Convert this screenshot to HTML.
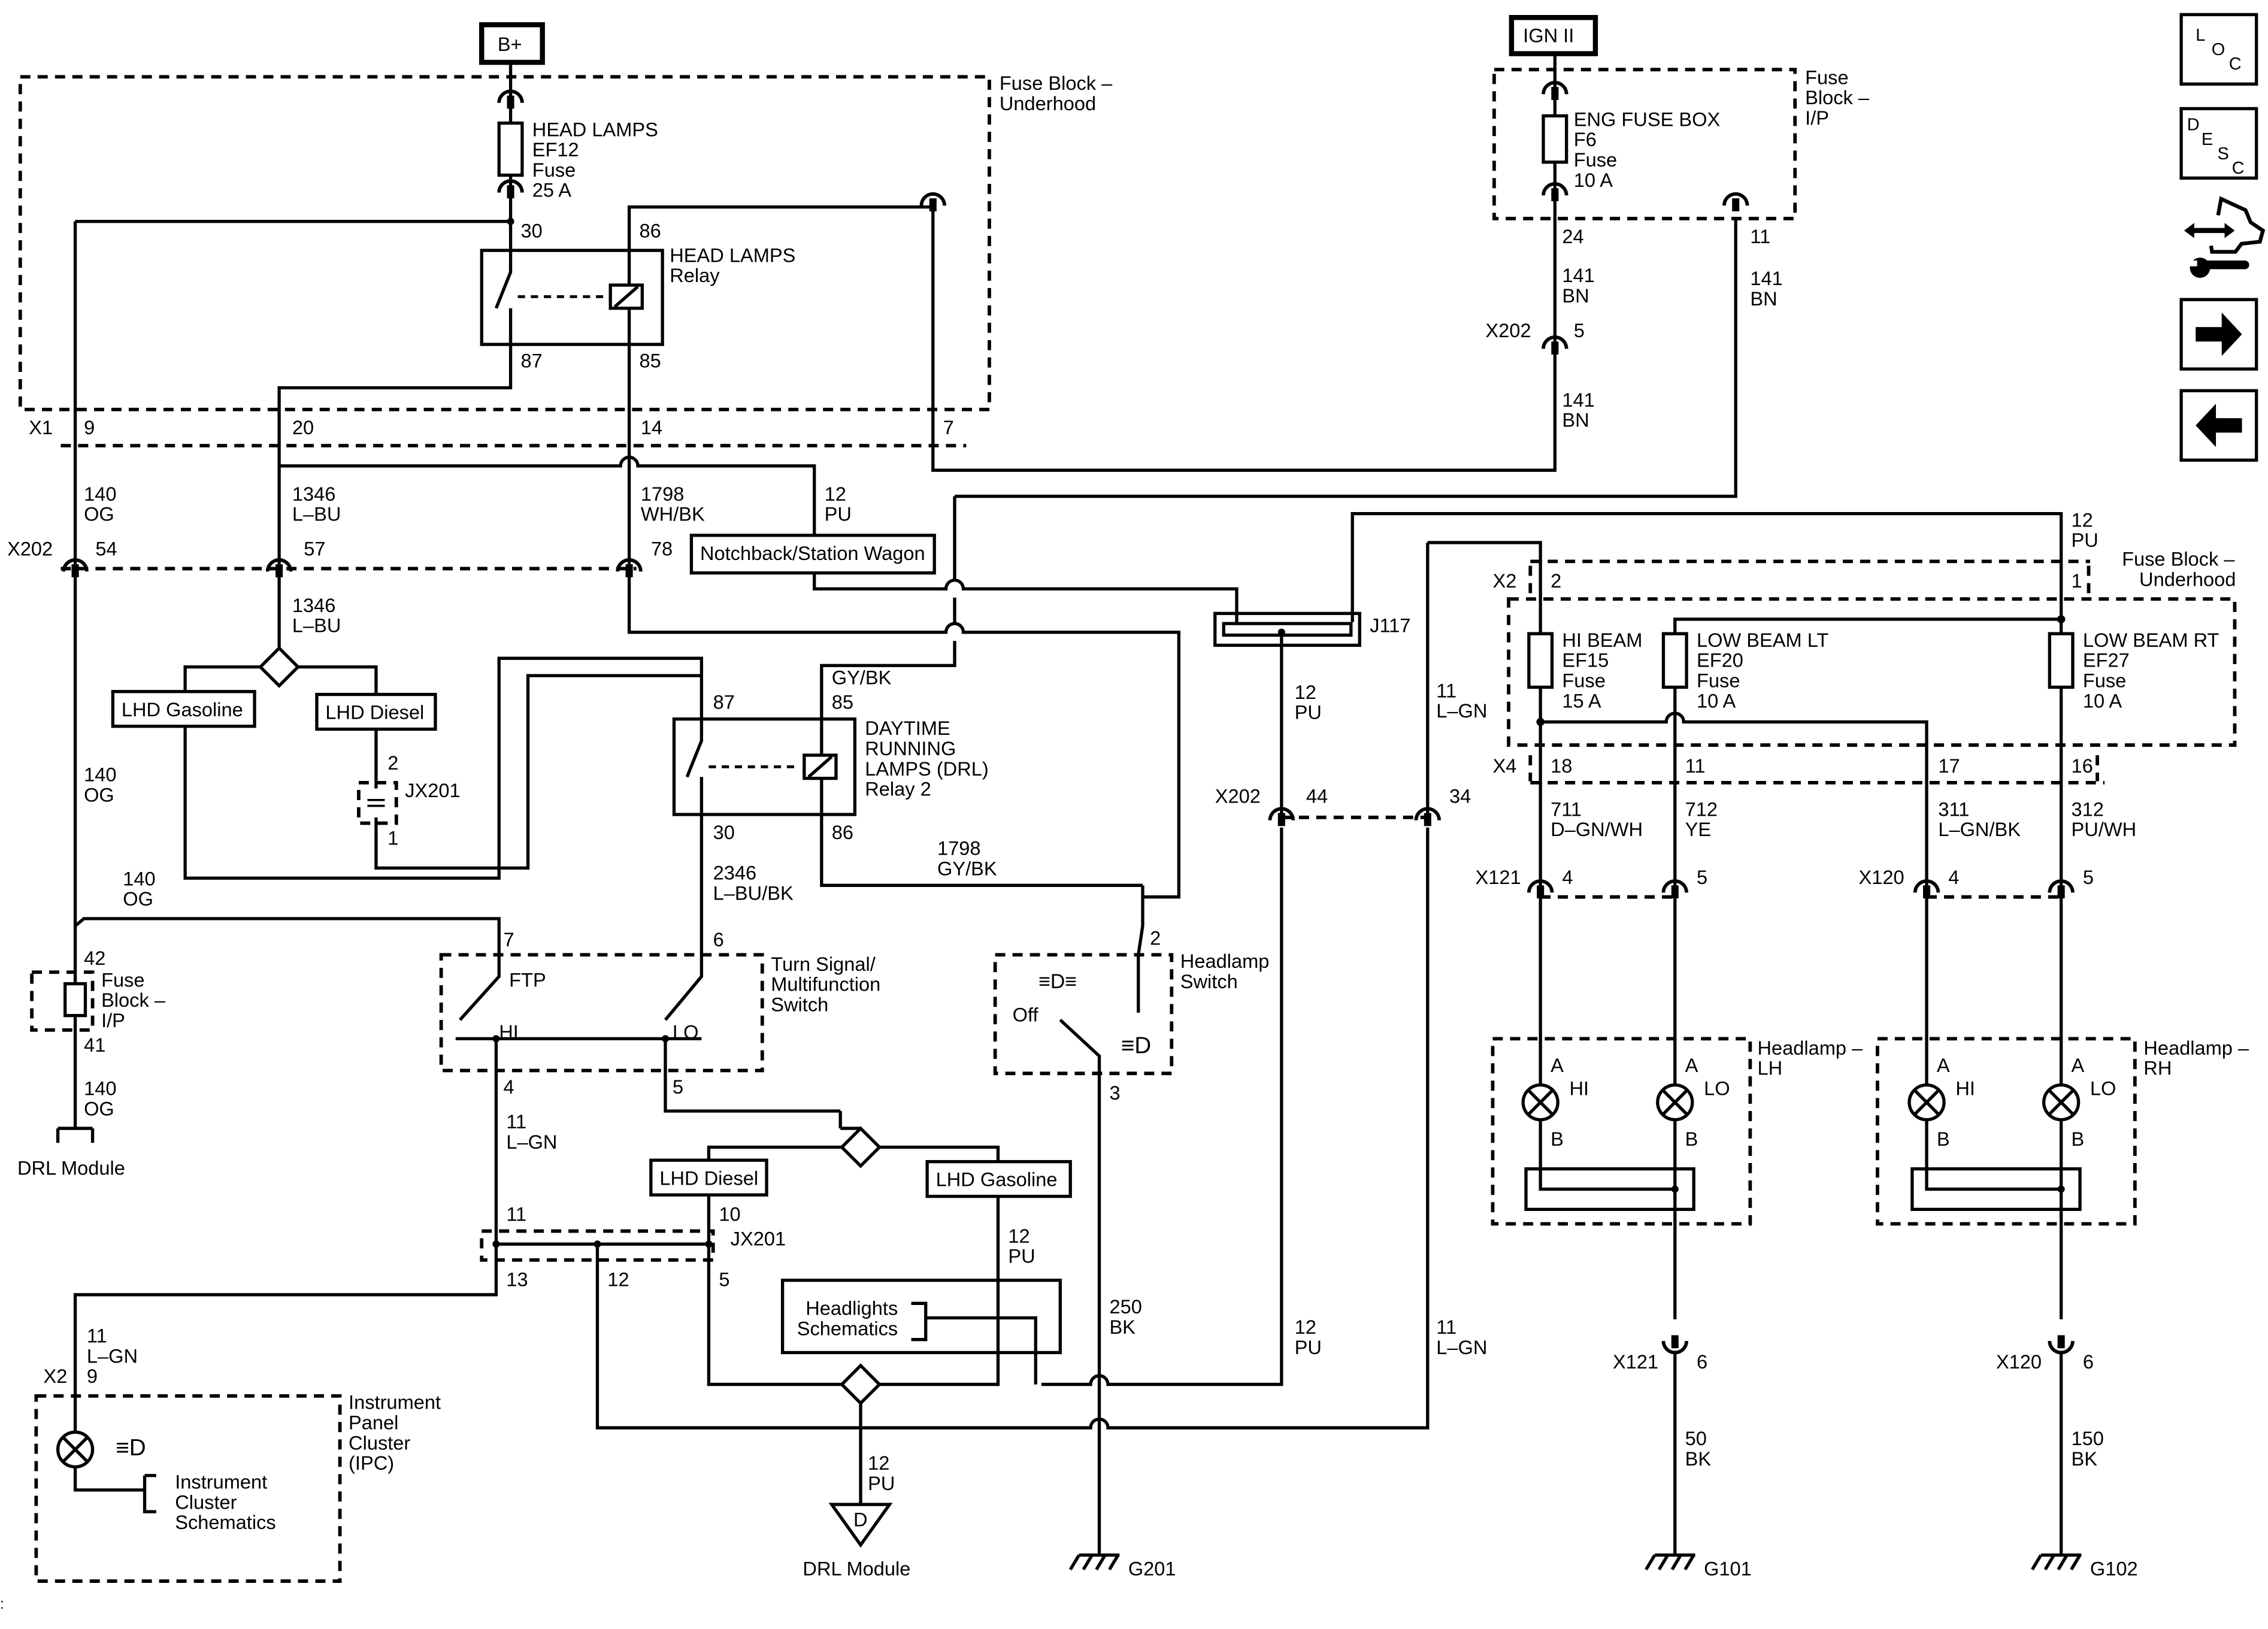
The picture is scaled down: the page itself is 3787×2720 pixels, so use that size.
<!DOCTYPE html>
<html><head><meta charset="utf-8"><style>
html,body{margin:0;padding:0;background:#fff}
svg{display:block}
text{font-family:"Liberation Sans",Arial,sans-serif;font-size:13.5px;fill:#000}
.w{fill:none;stroke:#000;stroke-width:2.2}
.d{fill:none;stroke:#000;stroke-width:2.4;stroke-dasharray:7 5}
.b{fill:none;stroke:#000;stroke-width:2.2}
</style></head><body>
<svg width="3787" height="2720" viewBox="0 0 1568 1126" xmlns="http://www.w3.org/2000/svg">
<rect width="1568" height="1126" fill="#fff"/>
<defs>
<g id="cn"><path d="M-8,5 A8,8 0 0 1 8,5" fill="none" stroke="#000" stroke-width="2.4"/><rect x="-2.5" y="0" width="5" height="9" fill="#000"/></g>
<g id="gnd"><path d="M-14,0 H14 M-14,0 l-6,10 M-5,0 l-6,10 M4,0 l-6,10 M13,0 l-6,10" fill="none" stroke="#000" stroke-width="2.2"/></g>
</defs>

<!-- B+ -->
<rect x="333" y="17" width="42" height="26" fill="none" stroke="#000" stroke-width="3.5"/>
<text x="344" y="35">B+</text>
<rect x="14" y="53" width="670" height="230" class="d"/>
<text x="691" y="62">Fuse Block –</text><text x="691" y="76">Underhood</text>
<path class="w" d="M353,43 V85 M353,121 V173"/>
<rect x="345" y="85" width="16" height="36" class="b"/>
<use href="#cn" x="353" y="66"/><use href="#cn" x="353" y="128"/>
<text x="368" y="94">HEAD LAMPS</text><text x="368" y="108">EF12</text><text x="368" y="122">Fuse</text><text x="368" y="136">25 A</text>
<path class="w" d="M52,153 H353"/>
<circle cx="353" cy="153" r="2.5"/>
<!-- head lamps relay -->
<rect x="333" y="173" width="125" height="65" class="b"/>
<text x="360" y="164">30</text><text x="442" y="164">86</text><text x="360" y="254">87</text><text x="442" y="254">85</text>
<text x="463" y="181">HEAD LAMPS</text><text x="463" y="195">Relay</text>
<path class="w" d="M353,173 V188 L343,213 M353,213 V238"/>
<path d="M358,205 H420" fill="none" stroke="#000" stroke-width="2" stroke-dasharray="5 4"/>
<rect x="422" y="197" width="22" height="16" class="b"/><path class="w" d="M425,212 L441,198"/>
<path class="w" d="M435,173 V197 M435,213 V238"/>
<path class="w" d="M435,173 V143 H645 V325 H1075 V245 M1075,236 V150"/>
<use href="#cn" x="645" y="137"/>
<path class="w" d="M353,238 V268 H193 V390"/>
<path class="w" d="M52,153 V390"/>
<path class="w" d="M435,238 V390"/>
<!-- X1 -->
<path class="d" d="M42,308 H668"/>
<text x="20" y="300">X1</text><text x="58" y="300">9</text><text x="202" y="300">20</text><text x="443" y="300">14</text><text x="652" y="300">7</text>
<path class="w" d="M193,322 H429 A6,6 0 0 1 441,322 H563 V370"/>
<text x="58" y="346">140</text><text x="58" y="360">OG</text>
<text x="202" y="346">1346</text><text x="202" y="360">L–BU</text>
<text x="443" y="346">1798</text><text x="443" y="360">WH/BK</text>
<text x="570" y="346">12</text><text x="570" y="360">PU</text>
<rect x="478" y="370" width="168" height="26" class="b"/>
<text x="484" y="387">Notchback/Station Wagon</text>
<!-- X202 row -->
<path class="d" d="M42,393 H440"/>
<text x="5" y="384">X202</text><text x="66" y="384">54</text><text x="210" y="384">57</text><text x="450" y="384">78</text>
<use href="#cn" x="52" y="390"/><use href="#cn" x="193" y="390"/><use href="#cn" x="435" y="390"/>
<path class="w" d="M52,399 V662"/>
<path class="w" d="M193,399 V448"/>
<text x="202" y="423">1346</text><text x="202" y="437">L–BU</text>
<path class="w" d="M193,448 L206,461 L193,474 L180,461 Z"/>
<path class="w" d="M180,461 H128 V478 M206,461 H260 V480"/>
<rect x="78" y="478" width="98" height="24" class="b"/><text x="84" y="495">LHD Gasoline</text>
<rect x="219" y="480" width="82" height="24" class="b"/><text x="225" y="497">LHD Diesel</text>
<path class="w" d="M128,502 V607 H345 V455 H485 V497"/>
<path class="w" d="M260,504 V545 M260,565 V600 H365 V467 H485"/>
<rect x="248" y="541" width="26" height="28" class="d"/>
<text x="268" y="532">2</text><text x="280" y="551">JX201</text><text x="268" y="584">1</text>
<path d="M254,553 h12 M254,557 h12" stroke="#000" stroke-width="1.5"/>
<text x="58" y="540">140</text><text x="58" y="554">OG</text>
<!-- 435 line continuing -->
<path class="w" d="M435,399 V437 H654 A6,6 0 0 1 666,437 H815 V620 H790"/>
<path class="w" d="M563,396 V407 H654 A6,6 0 0 1 666,407 H855 V430"/>
<path class="w" d="M660,343 H1200 V150"/>
<use href="#cn" x="1200" y="137"/>
<path class="w" d="M660,343 V401 M660,413 V431 M660,443 V460 H568 V497"/>
<text x="575" y="473">GY/BK</text>
<!-- DRL relay -->
<rect x="466" y="497" width="125" height="66" class="b"/>
<text x="493" y="490">87</text><text x="575" y="490">85</text><text x="493" y="580">30</text><text x="575" y="580">86</text>
<text x="598" y="508">DAYTIME</text><text x="598" y="522">RUNNING</text><text x="598" y="536">LAMPS (DRL)</text><text x="598" y="550">Relay 2</text>
<path class="w" d="M485,497 V512 L475,537 M485,537 V563"/>
<path d="M490,530 H553" fill="none" stroke="#000" stroke-width="2" stroke-dasharray="5 4"/>
<rect x="556" y="522" width="22" height="16" class="b"/><path class="w" d="M559,537 L575,523"/>
<path class="w" d="M568,497 V522 M568,538 V563"/>
<path class="w" d="M568,563 V612 H790"/>
<text x="648" y="591">1798</text><text x="648" y="605">GY/BK</text>
<path class="w" d="M485,563 V675 L460,705"/>
<text x="493" y="608">2346</text><text x="493" y="622">L–BU/BK</text>
<!-- J117 -->
<path class="w" d="M935,430 V355 H1425 V438"/>
<text x="1432" y="364">12</text><text x="1432" y="378">PU</text>
<rect x="840" y="424" width="100" height="22" class="b"/>
<rect x="846" y="431" width="88" height="8" class="b"/>
<text x="947" y="437">J117</text>
<circle cx="886" cy="437" r="2.5"/>
<path class="w" d="M886,437 V562 M886,572 V957 H766 A6,6 0 0 0 754,957 H720"/>
<text x="895" y="483">12</text><text x="895" y="497">PU</text>
<text x="895" y="922">12</text><text x="895" y="936">PU</text>
<use href="#cn" x="886" y="562"/><use href="#cn" x="987" y="562"/>
<path class="d" d="M886,565 H987"/>
<text x="840" y="555">X202</text><text x="903" y="555">44</text><text x="1002" y="555">34</text>
<path class="w" d="M987,375 H1065 V438 M987,375 V562 M987,572 V987 H766 A6,6 0 0 0 754,987 H413 V860"/>
<text x="993" y="482">11</text><text x="993" y="496">L–GN</text>
<text x="993" y="922">11</text><text x="993" y="936">L–GN</text>
<!-- left: fuse block I/P -->
<path class="w" d="M52,640 L58,635 H345 V660"/>
<text x="85" y="612">140</text><text x="85" y="626">OG</text>
<rect x="22" y="672" width="42" height="40" class="d"/>
<path class="w" d="M52,662 V680 M52,702 V780"/>
<rect x="45" y="680" width="14" height="22" class="b"/>
<text x="58" y="667">42</text><text x="70" y="682">Fuse</text><text x="70" y="696">Block –</text><text x="70" y="710">I/P</text><text x="58" y="727">41</text>
<text x="58" y="757">140</text><text x="58" y="771">OG</text>
<path class="w" d="M40,780 H64 M40,780 V790 M64,780 V790"/>
<text x="12" y="812">DRL Module</text>
<!-- turn signal switch -->
<rect x="305" y="660" width="222" height="80" class="d"/>
<text x="348" y="654">7</text><text x="493" y="654">6</text>
<text x="533" y="671">Turn Signal/</text><text x="533" y="685">Multifunction</text><text x="533" y="699">Switch</text>
<text x="352" y="682">FTP</text>
<path class="w" d="M345,660 V675 L318,705"/>
<text x="345" y="718">HI</text><text x="465" y="718">LO</text>
<path class="w" d="M315,718 H485"/>
<path class="w" d="M343,718 V860 M460,718 V768 H581"/>
<circle cx="343" cy="718" r="2.5"/><circle cx="460" cy="718" r="2.5"/>
<text x="348" y="756">4</text><text x="465" y="756">5</text>
<text x="350" y="780">11</text><text x="350" y="794">L–GN</text>
<path class="w" d="M581,768 V780 M595,780 L608,793 L595,806 L582,793 Z"/>
<path class="w" d="M581,780 H595"/>
<path class="w" d="M582,793 H490 V802 M608,793 H690 V803"/>
<rect x="450" y="802" width="80" height="24" class="b"/><text x="456" y="819">LHD Diesel</text>
<rect x="641" y="803" width="99" height="24" class="b"/><text x="647" y="820">LHD Gasoline</text>
<!-- JX201 bottom -->
<rect x="333" y="851" width="160" height="20" class="d"/>
<path class="w" d="M343,860 H490 M343,860 V895 H52 V965 M490,826 V957 H582"/>
<circle cx="343" cy="860" r="2.5"/><circle cx="413" cy="860" r="2.5"/><circle cx="490" cy="860" r="2.5"/>
<text x="350" y="844">11</text><text x="497" y="844">10</text><text x="505" y="861">JX201</text>
<text x="350" y="889">13</text><text x="420" y="889">12</text><text x="497" y="889">5</text>
<path class="w" d="M690,827 V957 H608"/>
<text x="697" y="859">12</text><text x="697" y="873">PU</text>
<rect x="541" y="885" width="192" height="50" class="b"/>
<text x="557" y="909">Headlights</text><text x="551" y="923">Schematics</text>
<path class="w" d="M630,901 H640 V926 H630 M640,911 H716 V957"/>
<path class="w" d="M595,944 L608,957 L595,970 L582,957 Z M595,970 V1040"/>
<text x="600" y="1016">12</text><text x="600" y="1030">PU</text>
<path class="w" d="M575,1040 H615 L595,1068 Z"/>
<text x="590" y="1055">D</text>
<text x="555" y="1089">DRL Module</text>
<!-- IPC -->
<text x="30" y="956">X2</text><text x="60" y="956">9</text>
<text x="60" y="928">11</text><text x="60" y="942">L–GN</text>
<rect x="25" y="965" width="210" height="128" class="d"/>
<circle cx="52" cy="1002" r="12" class="b"/><path class="w" d="M44,994 L60,1010 M60,994 L44,1010"/>
<path class="w" d="M52,965 V990 M52,1014 V1030 H100 M100,1020 H108 M100,1020 V1045 H108"/>
<text x="80" y="1006" style="font-size:16px">≡D</text>
<text x="121" y="1029">Instrument</text><text x="121" y="1043">Cluster</text><text x="121" y="1057">Schematics</text>
<text x="241" y="974">Instrument</text><text x="241" y="988">Panel</text><text x="241" y="1002">Cluster</text><text x="241" y="1016">(IPC)</text>
<!-- headlamp switch -->
<rect x="688" y="660" width="122" height="82" class="d"/>
<text x="795" y="653">2</text>
<path class="w" d="M790,612 V640 L787,660 V700"/>
<text x="816" y="669">Headlamp</text><text x="816" y="683">Switch</text>
<text x="718" y="683" style="font-size:14px">≡D≡</text>
<text x="700" y="706">Off</text>
<path class="w" d="M733,705 L760,730 V1075"/>
<text x="775" y="728" style="font-size:16px">≡D</text>
<text x="767" y="760">3</text>
<text x="767" y="908">250</text><text x="767" y="922">BK</text>
<use href="#gnd" x="760" y="1075"/><text x="780" y="1089">G201</text>
<!-- IGN II -->
<rect x="1045" y="12" width="58" height="25" fill="none" stroke="#000" stroke-width="3.5"/>
<text x="1053" y="29">IGN II</text>
<rect x="1033" y="48" width="208" height="103" class="d"/>
<text x="1248" y="58">Fuse</text><text x="1248" y="72">Block –</text><text x="1248" y="86">I/P</text>
<path class="w" d="M1075,37 V80 M1075,112 V150"/>
<rect x="1067" y="80" width="16" height="32" class="b"/>
<use href="#cn" x="1075" y="60"/><use href="#cn" x="1075" y="130"/>
<text x="1088" y="87">ENG FUSE BOX</text><text x="1088" y="101">F6</text><text x="1088" y="115">Fuse</text><text x="1088" y="129">10 A</text>
<text x="1080" y="168">24</text><text x="1210" y="168">11</text>
<text x="1080" y="195">141</text><text x="1080" y="209">BN</text>
<text x="1210" y="197">141</text><text x="1210" y="211">BN</text>
<use href="#cn" x="1075" y="236"/>
<text x="1027" y="233">X202</text><text x="1088" y="233">5</text>
<text x="1080" y="281">141</text><text x="1080" y="295">BN</text>
<!-- right fuse block -->
<path class="d" d="M1058,388 H1445 M1058,391 V410 M1444,391 V410"/>
<text x="1032" y="406">X2</text><text x="1072" y="406">2</text><text x="1432" y="406">1</text>
<text x="1467" y="391">Fuse Block –</text><text x="1479" y="405">Underhood</text>
<rect x="1043" y="414" width="502" height="101" class="d"/>
<rect x="1057" y="438" width="16" height="37" class="b"/>
<rect x="1150" y="438" width="16" height="37" class="b"/>
<rect x="1417" y="438" width="16" height="37" class="b"/>
<text x="1080" y="447">HI BEAM</text><text x="1080" y="461">EF15</text><text x="1080" y="475">Fuse</text><text x="1080" y="489">15 A</text>
<text x="1173" y="447">LOW BEAM LT</text><text x="1173" y="461">EF20</text><text x="1173" y="475">Fuse</text><text x="1173" y="489">10 A</text>
<text x="1440" y="447">LOW BEAM RT</text><text x="1440" y="461">EF27</text><text x="1440" y="475">Fuse</text><text x="1440" y="489">10 A</text>
<path class="w" d="M1158,438 V428 H1425"/>
<circle cx="1425" cy="428" r="2.8"/>
<path class="w" d="M1065,475 V612 M1158,475 V612 M1425,475 V612 M1065,499 H1152 A6,6 0 0 1 1164,499 H1332 V612"/>
<circle cx="1065" cy="499" r="2.8"/>
<path class="d" d="M1058,541 H1455 M1058,522 V540 M1450,522 V540"/>
<text x="1032" y="534">X4</text><text x="1072" y="534">18</text><text x="1165" y="534">11</text><text x="1340" y="534">17</text><text x="1432" y="534">16</text>
<text x="1072" y="564">711</text><text x="1072" y="578">D–GN/WH</text>
<text x="1165" y="564">712</text><text x="1165" y="578">YE</text>
<text x="1340" y="564">311</text><text x="1340" y="578">L–GN/BK</text>
<text x="1432" y="564">312</text><text x="1432" y="578">PU/WH</text>
<use href="#cn" x="1065" y="612"/><use href="#cn" x="1158" y="612"/><use href="#cn" x="1332" y="612"/><use href="#cn" x="1425" y="612"/>
<path class="d" d="M1065,620 H1158 M1332,620 H1425"/>
<text x="1020" y="611">X121</text><text x="1080" y="611">4</text><text x="1173" y="611">5</text>
<text x="1285" y="611">X120</text><text x="1347" y="611">4</text><text x="1440" y="611">5</text>
<path class="w" d="M1065,621 V750 M1065,774 V822 H1158 M1158,621 V750 M1158,774 V912"/>
<path class="w" d="M1332,621 V750 M1332,774 V822 H1425 M1425,621 V750 M1425,774 V912"/>
<rect x="1032" y="718" width="178" height="128" class="d"/>
<rect x="1298" y="718" width="178" height="128" class="d"/>
<rect x="1055" y="808" width="116" height="28" class="b"/>
<rect x="1322" y="808" width="116" height="28" class="b"/>
<circle cx="1158" cy="822" r="2.5"/><circle cx="1425" cy="822" r="2.5"/>
<g class="b">
<circle cx="1065" cy="762" r="12"/><circle cx="1158" cy="762" r="12"/><circle cx="1332" cy="762" r="12"/><circle cx="1425" cy="762" r="12"/>
</g>
<path class="w" d="M1057,754 l16,16 m0,-16 l-16,16 M1150,754 l16,16 m0,-16 l-16,16 M1324,754 l16,16 m0,-16 l-16,16 M1417,754 l16,16 m0,-16 l-16,16"/>
<text x="1072" y="741">A</text><text x="1085" y="757">HI</text><text x="1072" y="792">B</text>
<text x="1165" y="741">A</text><text x="1178" y="757">LO</text><text x="1165" y="792">B</text>
<text x="1339" y="741">A</text><text x="1352" y="757">HI</text><text x="1339" y="792">B</text>
<text x="1432" y="741">A</text><text x="1445" y="757">LO</text><text x="1432" y="792">B</text>
<text x="1215" y="729">Headlamp –</text><text x="1215" y="743">LH</text>
<text x="1482" y="729">Headlamp –</text><text x="1482" y="743">RH</text>
<use href="#cn" x="1158" y="920" transform="rotate(180 1158 926)"/><use href="#cn" x="1425" y="920" transform="rotate(180 1425 926)"/>
<path class="w" d="M1158,934 V1075 M1425,934 V1075"/>
<text x="1115" y="946">X121</text><text x="1173" y="946">6</text>
<text x="1380" y="946">X120</text><text x="1440" y="946">6</text>
<text x="1165" y="999">50</text><text x="1165" y="1013">BK</text>
<text x="1432" y="999">150</text><text x="1432" y="1013">BK</text>
<use href="#gnd" x="1158" y="1075"/><text x="1178" y="1089">G101</text>
<use href="#gnd" x="1425" y="1075"/><text x="1445" y="1089">G102</text>
<!-- icons -->
<rect x="1508" y="10" width="52" height="48" class="b"/>
<text x="1518" y="28" style="font-size:12px">L</text><text x="1529" y="38" style="font-size:12px">O</text><text x="1541" y="48" style="font-size:12px">C</text>
<rect x="1508" y="75" width="52" height="48" class="b"/>
<text x="1512" y="90" style="font-size:12px">D</text><text x="1522" y="100" style="font-size:12px">E</text><text x="1533" y="110" style="font-size:12px">S</text><text x="1543" y="120" style="font-size:12px">C</text>
<path d="M1510,159.3 L1517,154 V157.5 H1538 V154 L1545,159.3 L1538,164.5 V161 H1517 V164.5 Z" fill="#000"/>
<path d="M1533.5,148.7 L1535.6,137.4 L1552.5,145.2 L1556,153.6 L1564.5,159.3 L1562.4,167 L1549.7,168.4 L1545.5,174 L1529.3,174 L1528.6,169.8" fill="none" stroke="#000" stroke-width="2.6"/>
<path d="M1522,183 H1552" stroke="#000" stroke-width="6" stroke-linecap="round"/>
<circle cx="1521" cy="185" r="7" fill="#000"/>
<rect x="1512" y="180" width="7" height="4" fill="#fff"/>
<rect x="1508" y="207" width="52" height="48" class="b"/>
<path d="M1518,226 H1536 V216 L1550,231 L1536,246 V236 H1518 Z" fill="#000"/>
<rect x="1508" y="270" width="52" height="48" class="b"/>
<path d="M1550,289 H1532 V279 L1518,294 L1532,309 V299 H1550 Z" fill="#000"/>
<text x="0" y="1112" style="font-size:10px">:</text>
</svg>
</body></html>
